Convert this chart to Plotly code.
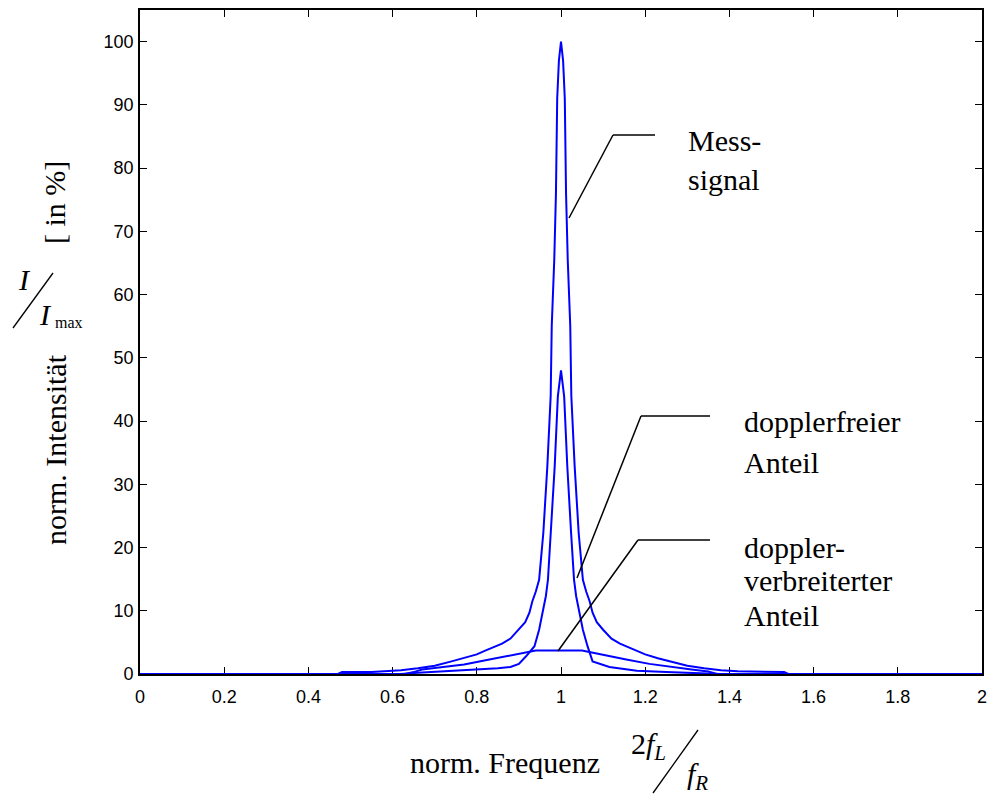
import plotly.graph_objects as go

# ---------------- data ----------------
mess_x = [0.00, 0.47, 0.48, 0.55, 0.58, 0.62, 0.66, 0.70, 0.74, 0.77, 0.80, 0.82, 0.84,
          0.86, 0.88, 0.90, 0.915, 0.925, 0.932, 0.940, 0.948, 0.958, 0.9675, 0.9755,
          0.978, 0.984, 0.988, 0.991, 0.995, 1.000, 1.005, 1.009, 1.012, 1.016, 1.022,
          1.0245, 1.0325, 1.042, 1.052, 1.060, 1.068, 1.075, 1.085, 1.10, 1.12, 1.14,
          1.16, 1.18, 1.20, 1.23, 1.26, 1.30, 1.34, 1.38, 1.42, 1.53, 1.54, 2.00]
mess_y = [0.0, 0.0, 0.3, 0.3, 0.45, 0.6, 0.9, 1.3, 2.0, 2.5, 3.1, 3.7, 4.2,
          4.8, 5.6, 7.0, 8.2, 9.7, 11.5, 13.0, 14.9, 22.3, 32.8, 44.0,
          55.0, 65.5, 76.0, 91.0, 97.0, 100.0, 97.0, 91.0, 76.0, 65.5, 55.0,
          44.0, 32.8, 22.3, 14.9, 13.0, 11.5, 9.7, 8.2, 7.0, 5.6, 4.8,
          4.2, 3.7, 3.1, 2.5, 2.0, 1.3, 0.9, 0.6, 0.45, 0.3, 0.0, 0.0]

dfree_x = [0.00, 0.62, 0.66, 0.72, 0.80, 0.85, 0.88, 0.90, 0.917, 0.937, 0.948, 0.957,
           0.964, 0.969, 0.976, 0.985, 0.9925, 1.000, 1.0075, 1.015, 1.024, 1.031, 1.036,
           1.043, 1.052, 1.063, 1.075, 1.115, 1.15, 1.18, 1.25, 1.30, 1.38, 2.00]
dfree_y = [0.0, 0.0, 0.2, 0.4, 0.7, 0.9, 1.1, 1.6, 2.8, 4.4, 7.0, 9.7,
           12.3, 14.9, 22.3, 32.8, 43.9, 48.0, 43.9, 32.8, 22.3, 14.9, 12.3,
           9.7, 7.0, 4.4, 2.0, 1.1, 0.8, 0.5, 0.3, 0.2, 0.0, 0.0]

dopp_x = [0.00, 0.63, 0.65, 0.67, 0.72, 0.77, 0.83, 0.86, 0.90, 0.94, 1.05, 1.085,
          1.155, 1.21, 1.26, 1.31, 1.35, 1.37, 2.00]
dopp_y = [0.0, 0.0, 0.3, 0.7, 1.1, 1.5, 2.3, 2.7, 3.2, 3.7, 3.7, 3.2,
          2.3, 1.6, 1.1, 0.7, 0.4, 0.0, 0.0]

x_tickvals = [0, 0.2, 0.4, 0.6, 0.8, 1.0, 1.2, 1.4, 1.6, 1.8, 2.0]
x_ticktext = ["0", "0.2", "0.4", "0.6", "0.8", "1", "1.2", "1.4", "1.6", "1.8", "2"]
y_tickvals = [0, 10, 20, 30, 40, 50, 60, 70, 80, 90, 100]
y_ticktext = ["0", "10", "20", "30", "40", "50", "60", "70", "80", "90", "100"]

# ---------------- layout geometry ----------------
W, H = 989, 794
PL, PR, PT, PB = 140, 982, 10, 674   # plot area in pixels
L, T, R, B = PL, PT, W - PR, H - PB
PW, PH = W - L - R, H - T - B
XR = [0, 2]
YR = [0, 105]


def px(xp, yp):
    """pixel position -> paper coordinates"""
    return (xp - PL) / PW, (PB - yp) / PH


def dx(xp):
    return XR[0] + (xp - PL) / PW * (XR[1] - XR[0])


def dy(yp):
    return YR[0] + (PB - yp) / PH * (YR[1] - YR[0])


BLUE = "#0000FF"
SERIF = "Liberation Serif, Times New Roman, serif"
SANS = "Liberation Sans, Arial, Helvetica, sans-serif"

fig = go.Figure()
for xs, ys, nm in [(dopp_x, dopp_y, "doppler-verbreiterter Anteil"),
                   (dfree_x, dfree_y, "dopplerfreier Anteil"),
                   (mess_x, mess_y, "Messsignal")]:
    fig.add_trace(go.Scatter(x=xs, y=ys, mode="lines", name=nm,
                             line=dict(color=BLUE, width=2), showlegend=False))

axis_common = dict(showline=True, linecolor="black", linewidth=1.8, mirror="ticks",
                   ticks="inside", ticklen=7, tickwidth=1.4, tickcolor="black",
                   showgrid=False, zeroline=False, layer="below traces", automargin=False,
                   tickfont=dict(family=SANS, size=18, color="black"))

fig.update_layout(
    width=W, height=H, autosize=False,
    margin=dict(l=L, r=R, t=T, b=B, autoexpand=False),
    paper_bgcolor="white", plot_bgcolor="white",
    xaxis=dict(range=XR, tickvals=x_tickvals, ticktext=x_ticktext,
               ticklabelstandoff=5, **axis_common),
    yaxis=dict(range=YR, tickvals=y_tickvals, ticktext=y_ticktext,
               ticklabelstandoff=1, **axis_common),
)

annotations = []
shapes = []


def txt(text, xp, yp, size=30, angle=0, xanchor="center", yanchor="middle", family=SERIF):
    xx, yy = px(xp, yp)
    annotations.append(dict(text=text, x=xx, y=yy, xref="paper", yref="paper",
                            showarrow=False, textangle=angle, xanchor=xanchor,
                            yanchor=yanchor, font=dict(family=family, size=size, color="black")))


def pline(x0, y0, x1, y1, width=1.3):
    a0, b0 = px(x0, y0)
    a1, b1 = px(x1, y1)
    shapes.append(dict(type="line", xref="paper", yref="paper", x0=a0, y0=b0, x1=a1, y1=b1,
                       line=dict(color="black", width=width)))


def dline(pts):
    for (x0, y0), (x1, y1) in zip(pts[:-1], pts[1:]):
        shapes.append(dict(type="line", xref="x", yref="y", x0=dx(x0), y0=dy(y0),
                           x1=dx(x1), y1=dy(y1), line=dict(color="black", width=1.5)))


# leader lines
dline([(569, 218), (613, 135), (655, 135)])
dline([(577, 578), (641, 416), (710, 416)])
dline([(558, 651), (638, 540), (710, 540)])

# curve labels
txt("Mess-", 686, 140, xanchor="left")
txt("signal", 686, 180, xanchor="left")
txt("dopplerfreier", 742, 422, xanchor="left")
txt("Anteil", 742, 462, xanchor="left")
txt("doppler-", 742, 547, xanchor="left")
txt("verbreiterter", 742, 580, xanchor="left")
txt("Anteil", 742, 615, xanchor="left")

# x-axis title
txt("norm. Frequenz", 505, 762)
txt("2<i>f</i><sub><i>L</i></sub>", 648, 746)
pline(653, 793, 698, 730)
txt("<i>f</i><sub><i>R</i></sub>", 697, 776)

# y-axis title
txt("norm. Intensität", 55, 450, angle=-90)
txt("[ in %]", 55, 203, angle=-90)
txt("<i>I</i>", 24, 280)
pline(13, 328, 53, 273)
txt("<i>I</i>", 45, 314)
txt("max", 69, 322, size=16)

fig.update_layout(annotations=annotations, shapes=shapes)
fig.write_html("out.html",
               config={"displayModeBar": False, "responsive": False},
               post_script="document.body.style.margin='0px';"
                           "document.body.style.overflow='hidden';")
